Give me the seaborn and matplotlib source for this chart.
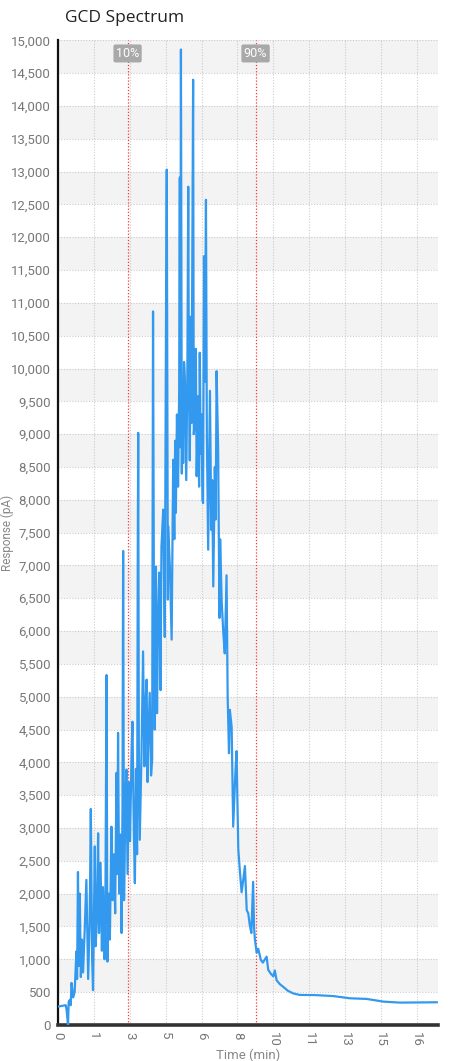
import matplotlib
matplotlib.use('Agg')
import matplotlib.pyplot as plt
from matplotlib import font_manager
from matplotlib.ticker import FuncFormatter, MultipleLocator
import pandas as pd
import seaborn as sns

# Chromatogram
time_min = [0.00, 0.17, 0.35, 0.39, 0.45, 0.48, 0.53, 0.57, 0.61, 0.68, 0.75, 0.83, 0.86, 0.90,
            0.94, 0.98, 1.03, 1.08, 1.13, 1.21, 1.28, 1.36, 1.43, 1.48, 1.54, 1.58, 1.66, 1.70,
            1.76, 1.81, 1.85, 1.92, 1.98, 2.03, 2.10, 2.14, 2.19, 2.23, 2.29, 2.34, 2.41, 2.46,
            2.52, 2.58, 2.64, 2.68, 2.71, 2.76, 2.82, 2.87, 2.91, 2.94, 2.98, 3.05, 3.09, 3.14,
            3.20, 3.25, 3.32, 3.36, 3.42, 3.47, 3.52, 3.57, 3.60, 3.62, 3.65, 3.69, 3.77, 3.84,
            3.90, 3.95, 4.00, 4.04, 4.07, 4.14, 4.20, 4.25, 4.29, 4.33, 4.37, 4.42, 4.47, 4.52,
            4.57, 4.63, 4.67, 4.75, 4.82, 4.88, 4.91, 4.96, 4.97, 5.05, 5.13, 5.20, 5.25, 5.29,
            5.32, 5.37, 5.42, 5.47, 5.50, 5.52, 5.55, 5.59, 5.62, 5.65, 5.69, 5.73, 5.79, 5.84,
            5.88, 5.91, 5.95, 6.00, 6.03, 6.10, 6.13, 6.18, 6.22, 6.26, 6.33, 6.37, 6.40, 6.44,
            6.48, 6.52, 6.55, 6.59, 6.63, 6.68, 6.72, 6.78, 6.82, 6.86, 6.92, 6.96, 7.01, 7.08,
            7.12, 7.16, 7.23, 7.29, 7.32, 7.39, 7.46, 7.53, 7.61, 7.66, 7.72, 7.76, 7.84, 7.91,
            7.99, 8.06, 8.14, 8.21, 8.29, 8.36, 8.44, 8.52, 8.59, 8.66, 8.73, 8.81, 8.85, 8.89,
            8.97, 9.04, 9.16, 9.25, 9.42, 9.49, 9.61, 9.72, 9.79, 9.87, 10.02, 10.17, 10.38,
            10.62, 10.92, 11.60, 12.41, 13.18, 13.94, 14.69, 15.44, 16.35, 17.12]
response_pa = [280, 290, 300, 220, 0, 350, 380, 300, 640, 420, 500, 1120, 700, 2330,
               900, 2000, 730, 1300, 800, 1500, 2210, 700, 1600, 3290, 1000, 530, 2720, 1200,
               1700, 2920, 1400, 2470, 1130, 2100, 1000, 1900, 5330, 965, 2000, 1300, 3020, 1900,
               2600, 1700, 3840, 2300, 4450, 2000, 2900, 1400, 3300, 7220, 1900, 3500, 3890, 2300,
               3700, 2800, 4100, 4620, 3000, 2160, 3900, 2600, 7090, 9020, 4000, 2820, 4140, 5690,
               3940, 4900, 5260, 3700, 4240, 5060, 3800, 4040, 10870, 6480, 4500, 6980, 4750, 6200,
               6890, 5100, 7290, 7850, 5910, 11040, 13030, 6480, 7600, 6980, 5870, 8610, 7400, 8900,
               7800, 9300, 8200, 9660, 12910, 8800, 14860, 8400, 9500, 8560, 10100, 9830, 8300, 9900,
               12770, 9800, 8600, 10790, 9170, 14400, 9000, 9200, 10300, 8360, 9580, 8200, 10240, 8700,
               9300, 8000, 7950, 11710, 9800, 12570, 9000, 7240, 8500, 9660, 7540, 8300, 6680, 8500,
               7700, 9960, 8760, 6200, 7400, 6450, 5990, 5660, 6850, 5000, 4140, 4800, 4540, 3020,
               3700, 4170, 2680, 2350, 2020, 2200, 2420, 1750, 1700, 1520, 1400, 2180, 1500, 1300,
               1100, 1160, 990, 950, 1040, 840, 780, 740, 830, 680, 620, 580, 520,
               480, 457, 455, 440, 406, 396, 355, 340, 342, 345]

tick_times = [0, 1.62, 3.24, 4.86, 6.48, 8.10, 9.72, 11.34, 12.96, 14.58, 16.20]
tick_labels = ['0', '1', '3', '5', '6', '8', '10', '11', '13', '15', '16']
marker_times = [3.14, 8.92]
marker_labels = ['10%', '90%']

df = pd.DataFrame({'time': time_min, 'response': response_pa})

sns.set_style('white')
installed = {f.name for f in font_manager.fontManager.ttflist}
narrow = 'Liberation Sans Narrow' if 'Liberation Sans Narrow' in installed else 'Roboto'
plt.rcParams['font.family'] = [narrow, 'DejaVu Sans']

fig = plt.figure(figsize=(4.57, 10.61), dpi=100)
ax = fig.add_axes([0.127, 0.034, 0.831, 0.928])

# alternating grey bands
for lo in range(500, 15000, 1000):
    ax.axhspan(lo, lo + 500, color='#f3f3f3', zorder=0, lw=0)

sns.lineplot(data=df, x='time', y='response', ax=ax, color='#3399ee',
             linewidth=1.6, estimator=None, zorder=3)

for t, lab in zip(marker_times, marker_labels):
    ax.axvline(t, color='#ff3333', linestyle=(0, (1, 1.5)), linewidth=0.9, zorder=2)
    ax.text(t, 14800, lab, ha='center', va='center', color='white', fontsize=9,
            bbox=dict(boxstyle='round,pad=0.2,rounding_size=0.15', fc='#a9a9a9', ec='none'),
            zorder=4)

ax.set_xlim(0, 17.15)
ax.set_ylim(0, 15000)
ax.yaxis.set_major_locator(MultipleLocator(500))
ax.yaxis.set_major_formatter(FuncFormatter(lambda v, p: f'{int(v):,}'))
ax.set_xticks(tick_times)
ax.set_xticklabels(tick_labels, rotation=270)

ax.grid(True, color='#cccccc', linestyle=(0, (1, 1.5)), linewidth=0.8, zorder=1)
ax.set_axisbelow(True)

for s in ['top', 'right']:
    ax.spines[s].set_visible(False)
ax.spines['left'].set_color('#111111')
ax.spines['left'].set_linewidth(1.6)
ax.spines['bottom'].set_color('#333333')
ax.spines['bottom'].set_linewidth(2.6)

ax.tick_params(axis='both', which='major', direction='out', length=4, width=1.4,
               color='#111111', labelcolor='#777777', labelsize=9.5, pad=1)

ax.set_xlabel('Time (min)', color='#888888', fontsize=9.5, labelpad=1)
ax.set_ylabel('Response (pA)', color='#888888', fontsize=8.5, va='center')
ax.yaxis.set_label_coords(-0.133, 0.5)

fig.text(0.142, 0.983, 'GCD Spectrum', fontsize=12.5, color='#222222',
         family=['Open Sans', 'DejaVu Sans'], va='center', ha='left')

fig.savefig('out.png', dpi=100)
